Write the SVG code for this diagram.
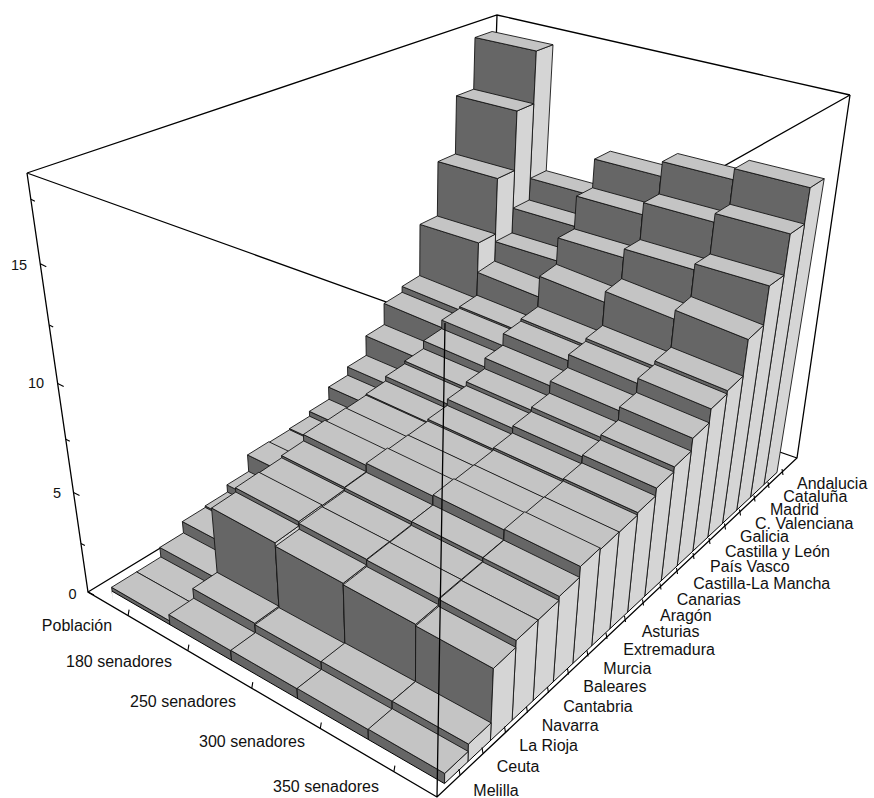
<svg xmlns="http://www.w3.org/2000/svg" width="874" height="798" viewBox="0 0 874 798">
<style>
.f{fill:#666}.r{fill:#d5d5d5}.t{fill:#c4c4c4}
.f,.r,.t{stroke:#151515;stroke-width:0.9;stroke-linejoin:bevel;vector-effect:non-scaling-stroke}
.ln{stroke:#000;stroke-width:1.3;fill:none}
.tk{stroke:#000;stroke-width:1.1;fill:none}
.lb{font-family:"Liberation Sans",Arial,sans-serif;font-size:16px;fill:#111}
.ax{font-family:"Liberation Sans",Arial,sans-serif;font-size:14.5px;fill:#111;text-anchor:middle}
</style>
<rect width="874" height="798" fill="#fff"/>
<g id="box-back" class="ln">
<path d="M27,173L497,15L850,95M27,173L445,323L850,95M497,15L486,350M88,592L486,350L797,458"/>
</g>
<g id="bars" transform="translate(406 2779)">
<g id="row18" transform="translate(-406 -2779)">
<polygon class="f" points="406,2779 475,37.5 536.3,51"/><polygon class="r" points="406,2779 536.3,51 553,44.7"/><polygon class="t" points="475,37.5 536.3,51 553,44.7 492.1,31.5"/>
<polygon class="f" points="406,2779 530.2,178.4 592,195.6"/><polygon class="r" points="406,2779 592,195.6 607.5,187.4"/><polygon class="t" points="530.2,178.4 592,195.6 607.5,187.4 546.2,170.7"/>
<polygon class="f" points="406,2779 594.6,159.1 660.9,176.4"/><polygon class="r" points="406,2779 660.9,176.4 676.1,168.2"/><polygon class="t" points="594.6,159.1 660.9,176.4 676.1,168.2 610.3,151.2"/>
<polygon class="f" points="406,2779 662.4,161.6 733.1,179.7"/><polygon class="r" points="406,2779 733.1,179.7 747.8,171.1"/><polygon class="t" points="662.4,161.6 733.1,179.7 747.8,171.1 677.6,153.5"/>
<polygon class="f" points="406,2779 734.5,168.7 810.2,187.7"/><polygon class="r" points="406,2779 810.2,187.7 824.2,178.7"/><polygon class="t" points="734.5,168.7 810.2,187.7 824.2,178.7 749.2,160.3"/>
</g>
<g id="row17" transform="translate(-406 -2779)">
<polygon class="f" points="406,2779 456.5,95.8 517,111"/><polygon class="r" points="406,2779 517,111 533.8,103.8"/><polygon class="t" points="456.5,95.8 517,111 533.8,103.8 473.7,89.2"/>
<polygon class="f" points="406,2779 513,208.2 574.5,226.3"/><polygon class="r" points="406,2779 574.5,226.3 590.4,217.7"/><polygon class="t" points="513,208.2 574.5,226.3 590.4,217.7 529.2,200"/>
<polygon class="f" points="406,2779 576.5,196.1 642.5,214.7"/><polygon class="r" points="406,2779 642.5,214.7 658.1,205.8"/><polygon class="t" points="576.5,196.1 642.5,214.7 658.1,205.8 592.6,187.8"/>
<polygon class="f" points="406,2779 643.6,202.7 714.1,222.2"/><polygon class="r" points="406,2779 714.1,222.2 729,212.8"/><polygon class="t" points="643.6,202.7 714.1,222.2 729,212.8 659.2,194"/>
<polygon class="f" points="406,2779 715.1,213.5 790.3,233.9"/><polygon class="r" points="406,2779 790.3,233.9 804.6,224.1"/><polygon class="t" points="715.1,213.5 790.3,233.9 804.6,224.1 730.1,204.3"/>
</g>
<g id="row16" transform="translate(-406 -2779)">
<polygon class="f" points="406,2779 438,161.6 497.5,178.5"/><polygon class="r" points="406,2779 497.5,178.5 514.6,170.5"/><polygon class="t" points="438,161.6 497.5,178.5 514.6,170.5 455.4,154"/>
<polygon class="f" points="406,2779 495.3,241.6 556.6,260.8"/><polygon class="r" points="406,2779 556.6,260.8 572.8,251.5"/><polygon class="t" points="495.3,241.6 556.6,260.8 572.8,251.5 512,232.9"/>
<polygon class="f" points="406,2779 558,237.9 623.6,257.7"/><polygon class="r" points="406,2779 623.6,257.7 639.4,248.2"/><polygon class="t" points="558,237.9 623.6,257.7 639.4,248.2 574.3,228.9"/>
<polygon class="f" points="406,2779 624.3,249 694.2,269.8"/><polygon class="r" points="406,2779 694.2,269.8 709.5,259.9"/><polygon class="t" points="624.3,249 694.2,269.8 709.5,259.9 640.2,239.6"/>
<polygon class="f" points="406,2779 694.9,263.9 769.4,285.9"/><polygon class="r" points="406,2779 769.4,285.9 784,275.3"/><polygon class="t" points="694.9,263.9 769.4,285.9 784,275.3 710.2,254"/>
</g>

<g transform="translate(-406 -2779)"><polygon class="f" points="406,2779 420,224.4 478.5,242.9"/><polygon class="r" points="406,2779 478.5,242.9 495.6,234"/><polygon class="t" points="420,224.4 478.5,242.9 495.6,234 437.3,216"/></g>
<g transform="scale(1.06411)"><polygon class="f" points="0,0 67.3,-2355.6 124.5,-2332.6"/><polygon class="r" points="0,0 124.5,-2332.6 140.2,-2343.8"/><polygon class="t" points="67.3,-2355.6 124.5,-2332.6 140.2,-2343.8 83.3,-2366.2"/></g>
<g transform="scale(1.07292)"><polygon class="f" points="0,0 124.5,-2332.6 185,-2308.4"/><polygon class="r" points="0,0 185,-2308.4 200.2,-2320.2"/><polygon class="t" points="124.5,-2332.6 185,-2308.4 200.2,-2320.2 140.2,-2343.8"/></g>
<g transform="scale(1.07761)"><polygon class="f" points="0,0 185,-2308.4 248.9,-2282.7"/><polygon class="r" points="0,0 248.9,-2282.7 263.6,-2295.3"/><polygon class="t" points="185,-2308.4 248.9,-2282.7 263.6,-2295.3 200.2,-2320.2"/></g>
<g transform="scale(1.08152)"><polygon class="f" points="0,0 248.9,-2282.7 316.5,-2255.6"/><polygon class="r" points="0,0 316.5,-2255.6 330.7,-2268.9"/><polygon class="t" points="248.9,-2282.7 316.5,-2255.6 330.7,-2268.9 263.6,-2295.3"/></g>

<g transform="scale(1.05300)"><polygon class="f" points="0,0 -3.7,-2367.1 50.9,-2344.7"/><polygon class="r" points="0,0 50.9,-2344.7 67.3,-2355.6"/><polygon class="t" points="-3.7,-2367.1 50.9,-2344.7 67.3,-2355.6 13,-2377.4"/></g>
<g transform="scale(1.05443)"><polygon class="f" points="0,0 50.9,-2344.7 108.5,-2321.1"/><polygon class="r" points="0,0 108.5,-2321.1 124.5,-2332.6"/><polygon class="t" points="50.9,-2344.7 108.5,-2321.1 124.5,-2332.6 67.3,-2355.6"/></g>
<g transform="scale(1.05993)"><polygon class="f" points="0,0 108.5,-2321.1 169.3,-2296.2"/><polygon class="r" points="0,0 169.3,-2296.2 185,-2308.4"/><polygon class="t" points="108.5,-2321.1 169.3,-2296.2 185,-2308.4 124.5,-2332.6"/></g>
<g transform="scale(1.06289)"><polygon class="f" points="0,0 169.3,-2296.2 233.7,-2269.8"/><polygon class="r" points="0,0 233.7,-2269.8 248.9,-2282.7"/><polygon class="t" points="169.3,-2296.2 233.7,-2269.8 248.9,-2282.7 185,-2308.4"/></g>
<g transform="scale(1.06531)"><polygon class="f" points="0,0 233.7,-2269.8 301.8,-2241.9"/><polygon class="r" points="0,0 301.8,-2241.9 316.5,-2255.6"/><polygon class="t" points="233.7,-2269.8 301.8,-2241.9 316.5,-2255.6 248.9,-2282.7"/></g>

<g transform="scale(1.05053)"><polygon class="f" points="0,0 -20.9,-2356.5 34,-2333.5"/><polygon class="r" points="0,0 34,-2333.5 50.9,-2344.7"/><polygon class="t" points="-20.9,-2356.5 34,-2333.5 50.9,-2344.7 -3.7,-2367.1"/></g>
<g transform="scale(1.05372)"><polygon class="f" points="0,0 34,-2333.5 91.9,-2309.3"/><polygon class="r" points="0,0 91.9,-2309.3 108.5,-2321.1"/><polygon class="t" points="34,-2333.5 91.9,-2309.3 108.5,-2321.1 50.9,-2344.7"/></g>
<g transform="scale(1.05893)"><polygon class="f" points="0,0 91.9,-2309.3 153.2,-2283.7"/><polygon class="r" points="0,0 153.2,-2283.7 169.3,-2296.2"/><polygon class="t" points="91.9,-2309.3 153.2,-2283.7 169.3,-2296.2 108.5,-2321.1"/></g>
<g transform="scale(1.06163)"><polygon class="f" points="0,0 153.2,-2283.7 218,-2256.5"/><polygon class="r" points="0,0 218,-2256.5 233.7,-2269.8"/><polygon class="t" points="153.2,-2283.7 218,-2256.5 233.7,-2269.8 169.3,-2296.2"/></g>
<g transform="scale(1.06386)"><polygon class="f" points="0,0 218,-2256.5 286.8,-2227.8"/><polygon class="r" points="0,0 286.8,-2227.8 301.8,-2241.9"/><polygon class="t" points="218,-2256.5 286.8,-2227.8 301.8,-2241.9 233.7,-2269.8"/></g>

<g transform="scale(1.04155)"><polygon class="f" points="0,0 -38.5,-2345.6 16.7,-2322"/><polygon class="r" points="0,0 16.7,-2322 34,-2333.5"/><polygon class="t" points="-38.5,-2345.6 16.7,-2322 34,-2333.5 -20.9,-2356.5"/></g>
<g transform="scale(1.05006)"><polygon class="f" points="0,0 16.7,-2322 74.9,-2297.1"/><polygon class="r" points="0,0 74.9,-2297.1 91.9,-2309.3"/><polygon class="t" points="16.7,-2322 74.9,-2297.1 91.9,-2309.3 34,-2333.5"/></g>
<g transform="scale(1.05390)"><polygon class="f" points="0,0 74.9,-2297.1 136.6,-2270.8"/><polygon class="r" points="0,0 136.6,-2270.8 153.2,-2283.7"/><polygon class="t" points="74.9,-2297.1 136.6,-2270.8 153.2,-2283.7 91.9,-2309.3"/></g>
<g transform="scale(1.05593)"><polygon class="f" points="0,0 136.6,-2270.8 201.9,-2242.8"/><polygon class="r" points="0,0 201.9,-2242.8 218,-2256.5"/><polygon class="t" points="136.6,-2270.8 201.9,-2242.8 218,-2256.5 153.2,-2283.7"/></g>
<g transform="scale(1.05762)"><polygon class="f" points="0,0 201.9,-2242.8 271.2,-2213.2"/><polygon class="r" points="0,0 271.2,-2213.2 286.8,-2227.8"/><polygon class="t" points="201.9,-2242.8 271.2,-2213.2 286.8,-2227.8 218,-2256.5"/></g>

<g transform="scale(1.03327)"><polygon class="f" points="0,0 -56.6,-2334.4 -1.2,-2310.2"/><polygon class="r" points="0,0 -1.2,-2310.2 16.7,-2322"/><polygon class="t" points="-56.6,-2334.4 -1.2,-2310.2 16.7,-2322 -38.5,-2345.6"/></g>
<g transform="scale(1.04666)"><polygon class="f" points="0,0 -1.2,-2310.2 57.5,-2284.6"/><polygon class="r" points="0,0 57.5,-2284.6 74.9,-2297.1"/><polygon class="t" points="-1.2,-2310.2 57.5,-2284.6 74.9,-2297.1 16.7,-2322"/></g>
<g transform="scale(1.04929)"><polygon class="f" points="0,0 57.5,-2284.6 119.5,-2257.5"/><polygon class="r" points="0,0 119.5,-2257.5 136.6,-2270.8"/><polygon class="t" points="57.5,-2284.6 119.5,-2257.5 136.6,-2270.8 74.9,-2297.1"/></g>
<g transform="scale(1.05066)"><polygon class="f" points="0,0 119.5,-2257.5 185.3,-2228.7"/><polygon class="r" points="0,0 185.3,-2228.7 201.9,-2242.8"/><polygon class="t" points="119.5,-2257.5 185.3,-2228.7 201.9,-2242.8 136.6,-2270.8"/></g>
<g transform="scale(1.05183)"><polygon class="f" points="0,0 185.3,-2228.7 255.2,-2198.2"/><polygon class="r" points="0,0 255.2,-2198.2 271.2,-2213.2"/><polygon class="t" points="185.3,-2228.7 255.2,-2198.2 271.2,-2213.2 201.9,-2242.8"/></g>

<g transform="scale(1.02971)"><polygon class="f" points="0,0 -75.2,-2322.9 -19.5,-2298.1"/><polygon class="r" points="0,0 -19.5,-2298.1 -1.2,-2310.2"/><polygon class="t" points="-75.2,-2322.9 -19.5,-2298.1 -1.2,-2310.2 -56.6,-2334.4"/></g>
<g transform="scale(1.04548)"><polygon class="f" points="0,0 -19.5,-2298.1 39.5,-2271.7"/><polygon class="r" points="0,0 39.5,-2271.7 57.5,-2284.6"/><polygon class="t" points="-19.5,-2298.1 39.5,-2271.7 57.5,-2284.6 -1.2,-2310.2"/></g>
<g transform="scale(1.04759)"><polygon class="f" points="0,0 39.5,-2271.7 101.9,-2243.8"/><polygon class="r" points="0,0 101.9,-2243.8 119.5,-2257.5"/><polygon class="t" points="39.5,-2271.7 101.9,-2243.8 119.5,-2257.5 57.5,-2284.6"/></g>
<g transform="scale(1.04873)"><polygon class="f" points="0,0 101.9,-2243.8 168.2,-2214.2"/><polygon class="r" points="0,0 168.2,-2214.2 185.3,-2228.7"/><polygon class="t" points="101.9,-2243.8 168.2,-2214.2 185.3,-2228.7 119.5,-2257.5"/></g>
<g transform="scale(1.04957)"><polygon class="f" points="0,0 168.2,-2214.2 238.7,-2182.7"/><polygon class="r" points="0,0 238.7,-2182.7 255.2,-2198.2"/><polygon class="t" points="168.2,-2214.2 238.7,-2182.7 255.2,-2198.2 185.3,-2228.7"/></g>

<g transform="scale(1.02446)"><polygon class="f" points="0,0 -94.3,-2311.1 -38.3,-2285.5"/><polygon class="r" points="0,0 -38.3,-2285.5 -19.5,-2298.1"/><polygon class="t" points="-94.3,-2311.1 -38.3,-2285.5 -19.5,-2298.1 -75.2,-2322.9"/></g>
<g transform="scale(1.04350)"><polygon class="f" points="0,0 -38.3,-2285.5 20.9,-2258.5"/><polygon class="r" points="0,0 20.9,-2258.5 39.5,-2271.7"/><polygon class="t" points="-38.3,-2285.5 20.9,-2258.5 39.5,-2271.7 -19.5,-2298.1"/></g>
<g transform="scale(1.04485)"><polygon class="f" points="0,0 20.9,-2258.5 83.8,-2229.7"/><polygon class="r" points="0,0 83.8,-2229.7 101.9,-2243.8"/><polygon class="t" points="20.9,-2258.5 83.8,-2229.7 101.9,-2243.8 39.5,-2271.7"/></g>
<g transform="scale(1.04556)"><polygon class="f" points="0,0 83.8,-2229.7 150.5,-2199.2"/><polygon class="r" points="0,0 150.5,-2199.2 168.2,-2214.2"/><polygon class="t" points="83.8,-2229.7 150.5,-2199.2 168.2,-2214.2 101.9,-2243.8"/></g>
<g transform="scale(1.04602)"><polygon class="f" points="0,0 150.5,-2199.2 221.6,-2166.7"/><polygon class="r" points="0,0 221.6,-2166.7 238.7,-2182.7"/><polygon class="t" points="150.5,-2199.2 221.6,-2166.7 238.7,-2182.7 168.2,-2214.2"/></g>

<g transform="scale(1.02236)"><polygon class="f" points="0,0 -113.9,-2299 -57.7,-2272.7"/><polygon class="r" points="0,0 -57.7,-2272.7 -38.3,-2285.5"/><polygon class="t" points="-113.9,-2299 -57.7,-2272.7 -38.3,-2285.5 -94.3,-2311.1"/></g>
<g transform="scale(1.04303)"><polygon class="f" points="0,0 -57.7,-2272.7 1.8,-2244.8"/><polygon class="r" points="0,0 1.8,-2244.8 20.9,-2258.5"/><polygon class="t" points="-57.7,-2272.7 1.8,-2244.8 20.9,-2258.5 -38.3,-2285.5"/></g>
<g transform="scale(1.04403)"><polygon class="f" points="0,0 1.8,-2244.8 65.1,-2215.2"/><polygon class="r" points="0,0 65.1,-2215.2 83.8,-2229.7"/><polygon class="t" points="1.8,-2244.8 65.1,-2215.2 83.8,-2229.7 20.9,-2258.5"/></g>
<g transform="scale(1.04453)"><polygon class="f" points="0,0 65.1,-2215.2 132.3,-2183.7"/><polygon class="r" points="0,0 132.3,-2183.7 150.5,-2199.2"/><polygon class="t" points="65.1,-2215.2 132.3,-2183.7 150.5,-2199.2 83.8,-2229.7"/></g>
<g transform="scale(1.04488)"><polygon class="f" points="0,0 132.3,-2183.7 203.9,-2150.2"/><polygon class="r" points="0,0 203.9,-2150.2 221.6,-2166.7"/><polygon class="t" points="132.3,-2183.7 203.9,-2150.2 221.6,-2166.7 150.5,-2199.2"/></g>

<g transform="scale(1.02187)"><polygon class="f" points="0,0 -134.2,-2286.5 -77.7,-2259.4"/><polygon class="r" points="0,0 -77.7,-2259.4 -57.7,-2272.7"/><polygon class="t" points="-134.2,-2286.5 -77.7,-2259.4 -57.7,-2272.7 -113.9,-2299"/></g>
<g transform="scale(1.04326)"><polygon class="f" points="0,0 -77.7,-2259.4 -17.8,-2230.7"/><polygon class="r" points="0,0 -17.8,-2230.7 1.8,-2244.8"/><polygon class="t" points="-77.7,-2259.4 -17.8,-2230.7 1.8,-2244.8 -57.7,-2272.7"/></g>
<g transform="scale(1.04419)"><polygon class="f" points="0,0 -17.8,-2230.7 45.8,-2200.2"/><polygon class="r" points="0,0 45.8,-2200.2 65.1,-2215.2"/><polygon class="t" points="-17.8,-2230.7 45.8,-2200.2 65.1,-2215.2 1.8,-2244.8"/></g>
<g transform="scale(1.04471)"><polygon class="f" points="0,0 45.8,-2200.2 113.5,-2167.8"/><polygon class="r" points="0,0 113.5,-2167.8 132.3,-2183.7"/><polygon class="t" points="45.8,-2200.2 113.5,-2167.8 132.3,-2183.7 65.1,-2215.2"/></g>
<g transform="scale(1.04506)"><polygon class="f" points="0,0 113.5,-2167.8 185.7,-2133.1"/><polygon class="r" points="0,0 185.7,-2133.1 203.9,-2150.2"/><polygon class="t" points="113.5,-2167.8 185.7,-2133.1 203.9,-2150.2 132.3,-2183.7"/></g>

<g transform="scale(1.02220)"><polygon class="f" points="0,0 -155,-2273.6 -98.3,-2245.8"/><polygon class="r" points="0,0 -98.3,-2245.8 -77.7,-2259.4"/><polygon class="t" points="-155,-2273.6 -98.3,-2245.8 -77.7,-2259.4 -134.2,-2286.5"/></g>
<g transform="scale(1.04395)"><polygon class="f" points="0,0 -98.3,-2245.8 -38.1,-2216.2"/><polygon class="r" points="0,0 -38.1,-2216.2 -17.8,-2230.7"/><polygon class="t" points="-98.3,-2245.8 -38.1,-2216.2 -17.8,-2230.7 -77.7,-2259.4"/></g>
<g transform="scale(1.04492)"><polygon class="f" points="0,0 -38.1,-2216.2 25.9,-2184.7"/><polygon class="r" points="0,0 25.9,-2184.7 45.8,-2200.2"/><polygon class="t" points="-38.1,-2216.2 25.9,-2184.7 45.8,-2200.2 -17.8,-2230.7"/></g>
<g transform="scale(1.04547)"><polygon class="f" points="0,0 25.9,-2184.7 94,-2151.2"/><polygon class="r" points="0,0 94,-2151.2 113.5,-2167.8"/><polygon class="t" points="25.9,-2184.7 94,-2151.2 113.5,-2167.8 45.8,-2200.2"/></g>
<g transform="scale(1.04586)"><polygon class="f" points="0,0 94,-2151.2 166.8,-2115.5"/><polygon class="r" points="0,0 166.8,-2115.5 185.7,-2133.1"/><polygon class="t" points="94,-2151.2 166.8,-2115.5 185.7,-2133.1 113.5,-2167.8"/></g>

<g transform="scale(1.01492)"><polygon class="f" points="0,0 -176.4,-2260.4 -119.5,-2231.7"/><polygon class="r" points="0,0 -119.5,-2231.7 -98.3,-2245.8"/><polygon class="t" points="-176.4,-2260.4 -119.5,-2231.7 -98.3,-2245.8 -155,-2273.6"/></g>
<g transform="scale(1.04110)"><polygon class="f" points="0,0 -119.5,-2231.7 -59.1,-2201.2"/><polygon class="r" points="0,0 -59.1,-2201.2 -38.1,-2216.2"/><polygon class="t" points="-119.5,-2231.7 -59.1,-2201.2 -38.1,-2216.2 -98.3,-2245.8"/></g>
<g transform="scale(1.04085)"><polygon class="f" points="0,0 -59.1,-2201.2 5.3,-2168.8"/><polygon class="r" points="0,0 5.3,-2168.8 25.9,-2184.7"/><polygon class="t" points="-59.1,-2201.2 5.3,-2168.8 25.9,-2184.7 -38.1,-2216.2"/></g>
<g transform="scale(1.04089)"><polygon class="f" points="0,0 5.3,-2168.8 73.9,-2134.2"/><polygon class="r" points="0,0 73.9,-2134.2 94,-2151.2"/><polygon class="t" points="5.3,-2168.8 73.9,-2134.2 94,-2151.2 25.9,-2184.7"/></g>
<g transform="scale(1.04072)"><polygon class="f" points="0,0 73.9,-2134.2 147.3,-2097.2"/><polygon class="r" points="0,0 147.3,-2097.2 166.8,-2115.5"/><polygon class="t" points="73.9,-2134.2 147.3,-2097.2 166.8,-2115.5 94,-2151.2"/></g>

<g transform="scale(1.01174)"><polygon class="f" points="0,0 -198.5,-2246.7 -141.4,-2217.2"/><polygon class="r" points="0,0 -141.4,-2217.2 -119.5,-2231.7"/><polygon class="t" points="-198.5,-2246.7 -141.4,-2217.2 -119.5,-2231.7 -176.4,-2260.4"/></g>
<g transform="scale(1.04010)"><polygon class="f" points="0,0 -141.4,-2217.2 -80.7,-2185.8"/><polygon class="r" points="0,0 -80.7,-2185.8 -59.1,-2201.2"/><polygon class="t" points="-141.4,-2217.2 -80.7,-2185.8 -59.1,-2201.2 -119.5,-2231.7"/></g>
<g transform="scale(1.03944)"><polygon class="f" points="0,0 -80.7,-2185.8 -15.9,-2152.3"/><polygon class="r" points="0,0 -15.9,-2152.3 5.3,-2168.8"/><polygon class="t" points="-80.7,-2185.8 -15.9,-2152.3 5.3,-2168.8 -59.1,-2201.2"/></g>
<g transform="scale(1.03913)"><polygon class="f" points="0,0 -15.9,-2152.3 53.1,-2116.5"/><polygon class="r" points="0,0 53.1,-2116.5 73.9,-2134.2"/><polygon class="t" points="-15.9,-2152.3 53.1,-2116.5 73.9,-2134.2 5.3,-2168.8"/></g>
<g transform="scale(1.03880)"><polygon class="f" points="0,0 53.1,-2116.5 127.1,-2078.3"/><polygon class="r" points="0,0 127.1,-2078.3 147.3,-2097.2"/><polygon class="t" points="53.1,-2116.5 127.1,-2078.3 147.3,-2097.2 73.9,-2134.2"/></g>

<g transform="scale(1.01107)"><polygon class="f" points="0,0 -221.2,-2232.7 -163.9,-2202.2"/><polygon class="r" points="0,0 -163.9,-2202.2 -141.4,-2217.2"/><polygon class="t" points="-221.2,-2232.7 -163.9,-2202.2 -141.4,-2217.2 -198.5,-2246.7"/></g>
<g transform="scale(1.04040)"><polygon class="f" points="0,0 -163.9,-2202.2 -103,-2169.8"/><polygon class="r" points="0,0 -103,-2169.8 -80.7,-2185.8"/><polygon class="t" points="-163.9,-2202.2 -103,-2169.8 -80.7,-2185.8 -141.4,-2217.2"/></g>
<g transform="scale(1.03954)"><polygon class="f" points="0,0 -103,-2169.8 -37.9,-2135.2"/><polygon class="r" points="0,0 -37.9,-2135.2 -15.9,-2152.3"/><polygon class="t" points="-103,-2169.8 -37.9,-2135.2 -15.9,-2152.3 -80.7,-2185.8"/></g>
<g transform="scale(1.03923)"><polygon class="f" points="0,0 -37.9,-2135.2 31.6,-2098.3"/><polygon class="r" points="0,0 31.6,-2098.3 53.1,-2116.5"/><polygon class="t" points="-37.9,-2135.2 31.6,-2098.3 53.1,-2116.5 -15.9,-2152.3"/></g>
<g transform="scale(1.03879)"><polygon class="f" points="0,0 31.6,-2098.3 106.1,-2058.7"/><polygon class="r" points="0,0 106.1,-2058.7 127.1,-2078.3"/><polygon class="t" points="31.6,-2098.3 106.1,-2058.7 127.1,-2078.3 53.1,-2116.5"/></g>

<g transform="scale(1.00602)"><polygon class="f" points="0,0 -244.7,-2218.2 -187.2,-2186.8"/><polygon class="r" points="0,0 -187.2,-2186.8 -163.9,-2202.2"/><polygon class="t" points="-244.7,-2218.2 -187.2,-2186.8 -163.9,-2202.2 -221.2,-2232.7"/></g>
<g transform="scale(1.03850)"><polygon class="f" points="0,0 -187.2,-2186.8 -126,-2153.3"/><polygon class="r" points="0,0 -126,-2153.3 -103,-2169.8"/><polygon class="t" points="-187.2,-2186.8 -126,-2153.3 -103,-2169.8 -163.9,-2202.2"/></g>
<g transform="scale(1.03689)"><polygon class="f" points="0,0 -126,-2153.3 -60.6,-2117.6"/><polygon class="r" points="0,0 -60.6,-2117.6 -37.9,-2135.2"/><polygon class="t" points="-126,-2153.3 -60.6,-2117.6 -37.9,-2135.2 -103,-2169.8"/></g>
<g transform="scale(1.03618)"><polygon class="f" points="0,0 -60.6,-2117.6 9.4,-2079.4"/><polygon class="r" points="0,0 9.4,-2079.4 31.6,-2098.3"/><polygon class="t" points="-60.6,-2117.6 9.4,-2079.4 31.6,-2098.3 -37.9,-2135.2"/></g>
<g transform="scale(1.03542)"><polygon class="f" points="0,0 9.4,-2079.4 84.4,-2038.3"/><polygon class="r" points="0,0 84.4,-2038.3 106.1,-2058.7"/><polygon class="t" points="9.4,-2079.4 84.4,-2038.3 106.1,-2058.7 31.6,-2098.3"/></g>

<g transform="scale(1.00174)"><polygon class="f" points="0,0 -268.9,-2203.2 -211.3,-2170.8"/><polygon class="r" points="0,0 -211.3,-2170.8 -187.2,-2186.8"/><polygon class="t" points="-268.9,-2203.2 -211.3,-2170.8 -187.2,-2186.8 -244.7,-2218.2"/></g>
<g transform="scale(1.00906)"><polygon class="f" points="0,0 -211.3,-2170.8 -149.8,-2136.3"/><polygon class="r" points="0,0 -149.8,-2136.3 -126,-2153.3"/><polygon class="t" points="-211.3,-2170.8 -149.8,-2136.3 -126,-2153.3 -187.2,-2186.8"/></g>
<g transform="scale(1.00842)"><polygon class="f" points="0,0 -149.8,-2136.3 -84.1,-2099.3"/><polygon class="r" points="0,0 -84.1,-2099.3 -60.6,-2117.6"/><polygon class="t" points="-149.8,-2136.3 -84.1,-2099.3 -60.6,-2117.6 -126,-2153.3"/></g>
<g transform="scale(1.00872)"><polygon class="f" points="0,0 -84.1,-2099.3 -13.7,-2059.8"/><polygon class="r" points="0,0 -13.7,-2059.8 9.4,-2079.4"/><polygon class="t" points="-84.1,-2099.3 -13.7,-2059.8 9.4,-2079.4 -60.6,-2117.6"/></g>
<g transform="scale(1.00873)"><polygon class="f" points="0,0 -13.7,-2059.8 61.9,-2017.3"/><polygon class="r" points="0,0 61.9,-2017.3 84.4,-2038.3"/><polygon class="t" points="-13.7,-2059.8 61.9,-2017.3 84.4,-2038.3 9.4,-2079.4"/></g>

<g transform="scale(1.00177)"><polygon class="f" points="0,0 -293.9,-2187.8 -236.1,-2154.4"/><polygon class="r" points="0,0 -236.1,-2154.4 -211.3,-2170.8"/><polygon class="t" points="-293.9,-2187.8 -236.1,-2154.4 -211.3,-2170.8 -268.9,-2203.2"/></g>
<g transform="scale(1.00458)"><polygon class="f" points="0,0 -236.1,-2154.4 -174.4,-2118.6"/><polygon class="r" points="0,0 -174.4,-2118.6 -149.8,-2136.3"/><polygon class="t" points="-236.1,-2154.4 -174.4,-2118.6 -149.8,-2136.3 -211.3,-2170.8"/></g>
<g transform="scale(1.00474)"><polygon class="f" points="0,0 -174.4,-2118.6 -108.4,-2080.4"/><polygon class="r" points="0,0 -108.4,-2080.4 -84.1,-2099.3"/><polygon class="t" points="-174.4,-2118.6 -108.4,-2080.4 -84.1,-2099.3 -149.8,-2136.3"/></g>
<g transform="scale(1.00491)"><polygon class="f" points="0,0 -108.4,-2080.4 -37.6,-2039.4"/><polygon class="r" points="0,0 -37.6,-2039.4 -13.7,-2059.8"/><polygon class="t" points="-108.4,-2080.4 -37.6,-2039.4 -13.7,-2059.8 -84.1,-2099.3"/></g>
<g transform="scale(1.00510)"><polygon class="f" points="0,0 -37.6,-2039.4 38.5,-1995.4"/><polygon class="r" points="0,0 38.5,-1995.4 61.9,-2017.3"/><polygon class="t" points="-37.6,-2039.4 38.5,-1995.4 61.9,-2017.3 -13.7,-2059.8"/></g>
</g>
<path id="mask" fill="#fff" stroke="none" d="M112.1,591.2L444.5,783.6L776.9,472.5L874,472.5L874,798L112.1,798Z"/>
<g id="box-front" class="ln">
<path d="M112.1,591.2L444.5,783.6L776.9,472.5" stroke-width="1"/>
<path d="M27,173L88,592L437,797L797,458L850,95M437,797L445,323"/>
</g>
<g id="ticks" class="tk">
<path d="M88,592l6,3M80.9,543.4l4,2M73.5,492.5l6,3M65.8,439.3l4,2M57.7,383.6l6,3M49.2,325.1l4,2M40.3,263.8l6,3M30.9,199.2l4,2"/>
<path d="M128.1,615.6l1,-6M187.9,650.7l1,-6M251.8,688.2l1,-6M320.3,728.5l1,-6M393.9,771.7l1,-6"/>
<path d="M460,775l-1,-6M483,753.5l-1,-6M505.5,732.6l-1,-6M527.5,712.6l-1,-6M548.5,693l-1,-6M568.5,674.5l-1,-6M588,656.5l-1,-6M607,639l-1,-6M625.5,622l-1,-6M643.5,605.5l-1,-6M661,589.5l-1,-6M677.5,574l-1,-6M694,559l-1,-6M710,544l-1,-6M725.5,529.5l-1,-6M740.5,515.5l-1,-6M755,501.5l-1,-6M769,488l-1,-6M783,475l-1,-6"/>
</g>
<g id="labels">
<text class="ax" x="19" y="270">15</text>
<text class="ax" x="36" y="388">10</text>
<text class="ax" x="57" y="498">5</text>
<text class="ax" x="72.5" y="599">0</text>
<g class="lb" text-anchor="middle">
<text x="77" y="631">Población</text>
<text x="119" y="667">180 senadores</text>
<text x="183" y="706.5">250 senadores</text>
<text x="252" y="746.5">300 senadores</text>
<text x="326" y="792">350 senadores</text>
</g>
<g class="lb">
<text x="797" y="488.8">Andalucia</text>
<text x="783.3" y="501.5">Cataluña</text>
<text x="770" y="514.5">Madrid</text>
<text x="755" y="528.8">C. Valenciana</text>
<text x="740" y="542.2">Galicia</text>
<text x="725" y="557.2">Castilla y León</text>
<text x="710" y="572.2">País Vasco</text>
<text x="693.3" y="588.8">Castilla-La Mancha</text>
<text x="676.7" y="604.8">Canarias</text>
<text x="660" y="620.5">Aragón</text>
<text x="641.7" y="637.2">Asturias</text>
<text x="623.3" y="654.8">Extremadura</text>
<text x="603.3" y="673.8">Murcia</text>
<text x="583.3" y="692.2">Baleares</text>
<text x="563.3" y="712.2">Cantabria</text>
<text x="541.7" y="730.5">Navarra</text>
<text x="519.3" y="750.5">La Rioja</text>
<text x="496.7" y="772.2">Ceuta</text>
<text x="473.3" y="795.5">Melilla</text>
</g>
</g>
</svg>
